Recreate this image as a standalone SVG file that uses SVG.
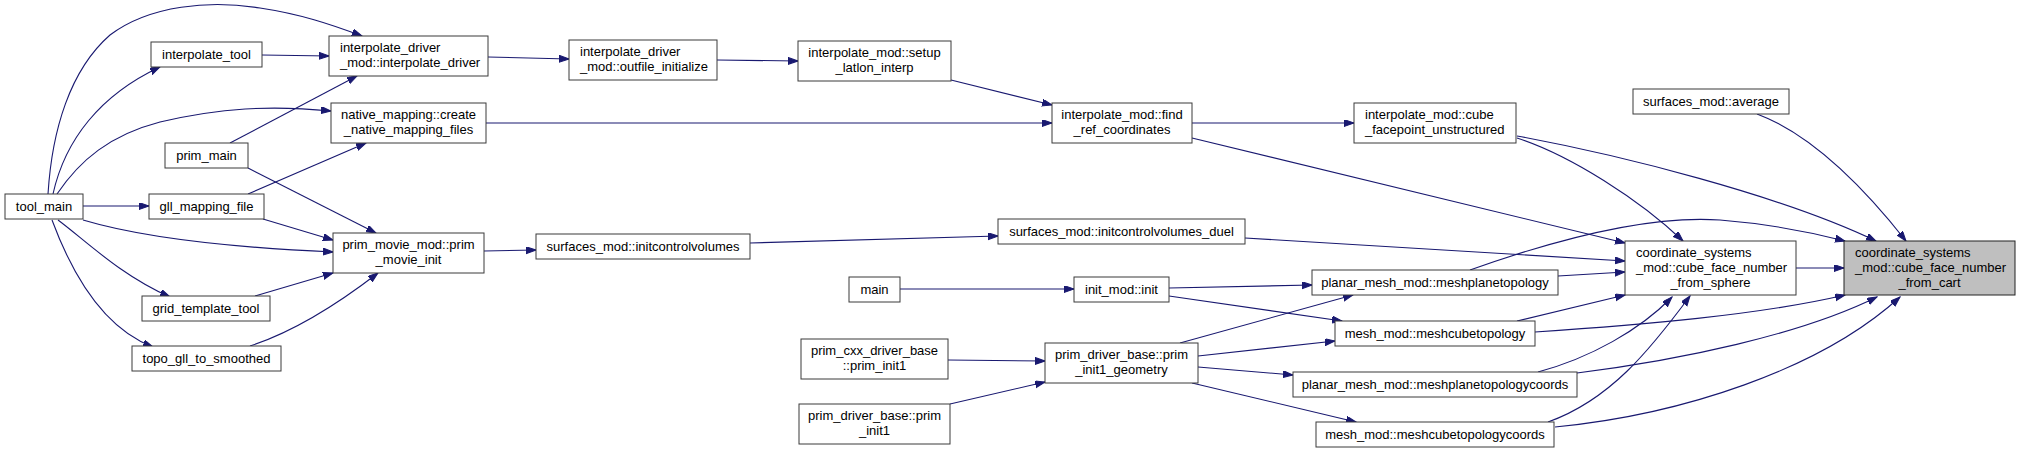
<svg xmlns="http://www.w3.org/2000/svg" width="2020" height="453" viewBox="0 0 2020 453">
<style>
.n rect{fill:#ffffff;stroke:#3a3a3a;stroke-width:1}
.sel rect{fill:#bfbfbf;stroke:#222222;stroke-width:1}
text{font-family:"Liberation Sans",Arial,sans-serif;font-size:13px;fill:#000000}
.c{text-anchor:middle}
.l{text-anchor:start}
#edges path{fill:none;stroke:#191970;stroke-width:1.1;marker-end:url(#ah)}
</style>
<defs>
<marker id="ah" markerUnits="userSpaceOnUse" markerWidth="11" markerHeight="8" refX="10" refY="3.5" orient="auto">
<path d="M0,0 L10,3.5 L0,7 z" fill="#191970" stroke="#191970" stroke-width="1"/>
</marker>
</defs>
<rect width="2020" height="453" fill="#ffffff"/>
<g id="edges">
<path d="M48,194 C52,130 70,70 110,35 C150,5 210,0 260,8 C300,14 330,24 362,36"/>
<path d="M53,194 C65,140 100,95 160,67"/>
<path d="M57,194 C80,160 110,135 160,122 C220,108 270,105 331,111"/>
<path d="M262,55 L329,56"/>
<path d="M230,143 L357,76"/>
<path d="M248,168 L376,233"/>
<path d="M248,194 L366,143"/>
<path d="M83,206 L149,206"/>
<path d="M263,219 L333,240"/>
<path d="M83,220 C140,237 220,247 333,252"/>
<path d="M58,220 C85,240 120,275 170,297"/>
<path d="M52,220 C65,255 95,325 153,347"/>
<path d="M255,296 L333,273"/>
<path d="M250,346 C290,333 330,310 378,273"/>
<path d="M488,57 L569,59"/>
<path d="M717,60 L798,61"/>
<path d="M951,80 L1052,105"/>
<path d="M486,123 L1052,123"/>
<path d="M1192,123 L1354,123"/>
<path d="M1192,138 L1625,243"/>
<path d="M1517,138 C1570,155 1640,200 1683,241"/>
<path d="M1517,136 C1620,155 1780,195 1876,241"/>
<path d="M1757,114 C1800,130 1850,170 1906,241"/>
<path d="M1796,268 L1844,268"/>
<path d="M750,243 L998,236"/>
<path d="M484,251 L536,250"/>
<path d="M1245,238 L1625,261"/>
<path d="M1558,276 L1625,272"/>
<path d="M1470,270 C1560,238 1650,215 1720,220 C1770,224 1810,232 1845,241"/>
<path d="M1517,321 L1625,295"/>
<path d="M1535,332 C1640,325 1760,315 1845,295"/>
<path d="M1538,372 C1590,358 1640,330 1672,297"/>
<path d="M1577,373 C1680,360 1800,335 1877,297"/>
<path d="M1548,422 C1610,400 1650,350 1690,296"/>
<path d="M1555,427 C1680,415 1820,370 1900,297"/>
<path d="M900,289 L1074,289"/>
<path d="M948,360 L1045,361"/>
<path d="M950,404 L1045,382"/>
<path d="M1169,288 L1312,285"/>
<path d="M1169,296 L1342,321"/>
<path d="M1180,343 L1353,295"/>
<path d="M1198,356 L1335,341"/>
<path d="M1198,367 L1293,375"/>
<path d="M1192,383 L1356,422"/>
</g>
<g id="tool_main" class="n"><rect x="5" y="194" width="78" height="25"/><text class="c" x="44" y="210.5">tool_main</text></g>
<g id="interpolate_tool" class="n"><rect x="151" y="42" width="111" height="25"/><text class="c" x="206.5" y="58.5">interpolate_tool</text></g>
<g id="interpolate_driver" class="n"><rect x="329" y="36" width="159" height="40"/><text class="l" x="340" y="52.3">interpolate_driver</text><text class="l" x="340" y="67">_mod::interpolate_driver</text></g>
<g id="create_native_mapping_files" class="n"><rect x="331" y="103" width="155" height="40"/><text class="c" x="408.5" y="119.3">native_mapping::create</text><text class="c" x="408.5" y="134">_native_mapping_files</text></g>
<g id="prim_main" class="n"><rect x="165" y="143" width="83" height="25"/><text class="c" x="206.5" y="159.5">prim_main</text></g>
<g id="gll_mapping_file" class="n"><rect x="149" y="194" width="115" height="25"/><text class="c" x="206.5" y="210.5">gll_mapping_file</text></g>
<g id="prim_movie_init" class="n"><rect x="333" y="233" width="151" height="40"/><text class="c" x="408.5" y="249.3">prim_movie_mod::prim</text><text class="c" x="408.5" y="264">_movie_init</text></g>
<g id="grid_template_tool" class="n"><rect x="142" y="296" width="128" height="25"/><text class="c" x="206" y="312.5">grid_template_tool</text></g>
<g id="topo_gll_to_smoothed" class="n"><rect x="132" y="346" width="149" height="25"/><text class="c" x="206.5" y="362.5">topo_gll_to_smoothed</text></g>
<g id="outfile_initialize" class="n"><rect x="569" y="40" width="148" height="40"/><text class="l" x="580" y="56.3">interpolate_driver</text><text class="l" x="580" y="71">_mod::outfile_initialize</text></g>
<g id="setup_latlon_interp" class="n"><rect x="798" y="41" width="153" height="40"/><text class="c" x="874.5" y="57.3">interpolate_mod::setup</text><text class="c" x="874.5" y="72">_latlon_interp</text></g>
<g id="initcontrolvolumes" class="n"><rect x="536" y="234" width="214" height="25"/><text class="c" x="643" y="250.5">surfaces_mod::initcontrolvolumes</text></g>
<g id="find_ref_coordinates" class="n"><rect x="1052" y="103" width="140" height="40"/><text class="c" x="1122" y="119.3">interpolate_mod::find</text><text class="c" x="1122" y="134">_ref_coordinates</text></g>
<g id="cube_facepoint_unstructured" class="n"><rect x="1354" y="103" width="162" height="40"/><text class="l" x="1365" y="119.3">interpolate_mod::cube</text><text class="l" x="1365" y="134">_facepoint_unstructured</text></g>
<g id="initcontrolvolumes_duel" class="n"><rect x="998" y="219" width="247" height="25"/><text class="c" x="1121.5" y="235.5">surfaces_mod::initcontrolvolumes_duel</text></g>
<g id="main" class="n"><rect x="849" y="277" width="51" height="25"/><text class="c" x="874.5" y="293.5">main</text></g>
<g id="prim_cxx_prim_init1" class="n"><rect x="801" y="339" width="147" height="40"/><text class="c" x="874.5" y="355.3">prim_cxx_driver_base</text><text class="c" x="874.5" y="370">::prim_init1</text></g>
<g id="prim_driver_base_prim_init1" class="n"><rect x="799" y="404" width="151" height="40"/><text class="c" x="874.5" y="420.3">prim_driver_base::prim</text><text class="c" x="874.5" y="435">_init1</text></g>
<g id="init_mod_init" class="n"><rect x="1074" y="277" width="95" height="25"/><text class="c" x="1121.5" y="293.5">init_mod::init</text></g>
<g id="prim_init1_geometry" class="n"><rect x="1045" y="343" width="153" height="40"/><text class="c" x="1121.5" y="359.3">prim_driver_base::prim</text><text class="c" x="1121.5" y="374">_init1_geometry</text></g>
<g id="meshplanetopology" class="n"><rect x="1312" y="270" width="246" height="25"/><text class="c" x="1435" y="286.5">planar_mesh_mod::meshplanetopology</text></g>
<g id="meshcubetopology" class="n"><rect x="1335" y="321" width="200" height="25"/><text class="c" x="1435" y="337.5">mesh_mod::meshcubetopology</text></g>
<g id="meshplanetopologycoords" class="n"><rect x="1293" y="372" width="284" height="25"/><text class="c" x="1435" y="388.5">planar_mesh_mod::meshplanetopologycoords</text></g>
<g id="meshcubetopologycoords" class="n"><rect x="1316" y="422" width="238" height="25"/><text class="c" x="1435" y="438.5">mesh_mod::meshcubetopologycoords</text></g>
<g id="surfaces_average" class="n"><rect x="1633" y="89" width="156" height="25"/><text class="c" x="1711" y="105.5">surfaces_mod::average</text></g>
<g id="cube_face_number_from_sphere" class="n"><rect x="1625" y="241" width="171" height="54"/><text class="l" x="1636" y="257.3">coordinate_systems</text><text class="l" x="1636" y="272">_mod::cube_face_number</text><text class="c" x="1710.5" y="286.6">_from_sphere</text></g>
<g id="cube_face_number_from_cart" class="sel"><rect x="1844" y="241" width="171" height="54"/><text class="l" x="1855" y="257.3">coordinate_systems</text><text class="l" x="1855" y="272">_mod::cube_face_number</text><text class="c" x="1929.5" y="286.6">_from_cart</text></g>
</svg>
